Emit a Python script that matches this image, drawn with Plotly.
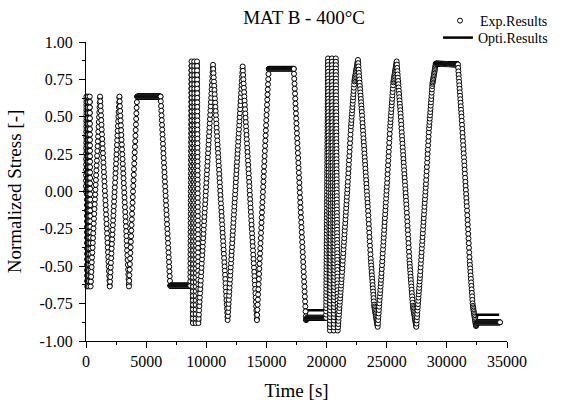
import numpy as np
import plotly.graph_objects as go

# ---------------- data ----------------
# Turning points of the loading history (time [s])
turn_time = [0, 35, 105, 175, 245, 315, 385,
             1170, 1975, 2780, 3570, 4250, 6200, 7000, 8670,
             8770, 8885, 9000, 9115, 9230, 9345,
             10560, 11775, 13025, 14210, 15190, 17275, 18290, 18390, 19960,
             20120, 20282, 20444, 20606, 20768, 20930,
             22610, 24250, 25830, 27460, 29080, 30920, 32420, 32520, 34420]
# Experimental stress at those points
exp_stress = [0, 0.635, -0.635, 0.635, -0.635, 0.635, -0.635,
              0.635, -0.635, 0.635, -0.635, 0.635, 0.635, -0.63, -0.63,
              0.87, -0.88, 0.87, -0.88, 0.87, -0.88,
              0.847, -0.86, 0.836, -0.86, 0.82, 0.82, -0.86, -0.845, -0.845,
              0.89, -0.93, 0.89, -0.93, 0.89, -0.93,
              0.88, -0.905, 0.87, -0.905, 0.855, 0.85, -0.90, -0.875, -0.875]
# Optimised model stress at those points
opti_stress = [0, 0.635, -0.635, 0.635, -0.635, 0.635, -0.635,
               0.635, -0.635, 0.635, -0.635, 0.635, 0.635, -0.63, -0.63,
               0.87, -0.88, 0.87, -0.88, 0.87, -0.88,
               0.847, -0.86, 0.836, -0.86, 0.82, 0.82, -0.86, -0.795, -0.795,
               0.89, -0.93, 0.89, -0.93, 0.89, -0.93,
               0.88, -0.905, 0.87, -0.905, 0.86, 0.86, -0.90, -0.825, -0.825]
# Segment type between consecutive turning points:
# f = fast ramp, s = slow linear ramp, c = slow elasto-plastic ramp, h = hold
seg_kind = ['f', 'f', 'f', 'f', 'f', 'f',
            's', 's', 's', 's', 's', 'h', 's', 'h',
            'f', 'f', 'f', 'f', 'f', 'f',
            's', 's', 's', 's', 's', 'h', 's', 'h', 'h',
            'f', 'f', 'f', 'f', 'f', 'f',
            'c', 'c', 'c', 'c', 'c', 'h', 'c', 'h', 'h']
# Sampling interval of the recorded data [s]
sample_dt = {'f': 2.0, 's': 20.0, 'c': 20.0, 'h': 20.0}
# Shape of an elasto-plastic ramp: fraction of time -> fraction of stress range
shape_time = [0, 0.2, 0.5, 0.65, 0.82, 1.0]
shape_stress = [0, 0.2, 0.55, 0.75, 0.92, 1.0]

x_tickvals = [0, 5000, 10000, 15000, 20000, 25000, 30000, 35000]
x_ticktext = ["0", "5000", "10000", "15000", "20000", "25000", "30000", "35000"]
y_tickvals = [-1.0, -0.75, -0.5, -0.25, 0.0, 0.25, 0.5, 0.75, 1.0]
y_ticktext = ["-1.00", "-0.75", "-0.50", "-0.25", "0.00", "0.25", "0.50", "0.75", "1.00"]

# ---------------- build the recorded series ----------------
exp_t, exp_v = [], []
opt_t, opt_v = [], []
for i, kind in enumerate(seg_kind):
    t0, t1 = turn_time[i], turn_time[i + 1]
    e0, e1 = exp_stress[i], exp_stress[i + 1]
    o0, o1 = opti_stress[i], opti_stress[i + 1]
    ts = np.arange(t0, t1, sample_dt[kind])
    frac = (ts - t0) / (t1 - t0)
    if kind == 'c':
        g = np.interp(frac, shape_time, shape_stress)
    else:
        g = frac
    exp_t.extend(ts.tolist())
    exp_v.extend((e0 + g * (e1 - e0)).tolist())
    if kind == 'c':
        for f, gg in zip(shape_time[:-1], shape_stress[:-1]):
            opt_t.append(t0 + f * (t1 - t0))
            opt_v.append(o0 + gg * (o1 - o0))
    else:
        opt_t.append(t0)
        opt_v.append(o0)
exp_t.append(turn_time[-1]); exp_v.append(exp_stress[-1])
opt_t.append(turn_time[-1] - 70); opt_v.append(opti_stress[-1])

FONT = "Liberation Serif"

fig = go.Figure()
fig.add_trace(go.Scatter(
    x=opt_t, y=opt_v, mode="lines", name="Opti.Results", showlegend=True,
    line=dict(color="black", width=2.5), legend="legend2", cliponaxis=False))
fig.add_trace(go.Scatter(
    x=exp_t, y=exp_v, mode="markers", name="Exp.Results", showlegend=True,
    marker=dict(symbol="circle", size=5, color="white",
                line=dict(color="black", width=1)),
    legend="legend", cliponaxis=False))

axis_common = dict(
    showline=True, linecolor="black", linewidth=1,
    ticks="outside", ticklen=6, tickwidth=1, tickcolor="black",
    showgrid=False, zeroline=False, mirror=False,
    tickfont=dict(family=FONT, size=16, color="black"),
)

fig.update_layout(
    width=564, height=401, showlegend=True,
    margin=dict(l=86, r=57, t=42, b=60, autoexpand=False),
    paper_bgcolor="white", plot_bgcolor="white",
    font=dict(family=FONT, color="black"),
    title=dict(text="MAT B - 400°C", x=0.518, xref="paper", xanchor="center",
               y=1 - 17 / 401, yref="container", yanchor="middle",
               font=dict(family=FONT, size=19, color="black")),
    xaxis=dict(range=[0, 35000], tickmode="array", tickvals=x_tickvals,
               ticktext=x_ticktext,
               minor=dict(ticks="outside", ticklen=3, tickcolor="black",
                          tickmode="linear", tick0=0, dtick=2500),
               title=dict(text="Time [s]", standoff=16,
                          font=dict(family=FONT, size=19, color="black")),
               **axis_common),
    yaxis=dict(range=[-1, 1], tickmode="array", tickvals=y_tickvals,
               ticktext=y_ticktext, ticklabelstandoff=3,
               minor=dict(ticks="outside", ticklen=3, tickcolor="black",
                          tickmode="linear", tick0=0, dtick=0.125),
               title=dict(text="Normalized Stress [-]", standoff=12,
                          font=dict(family=FONT, size=19, color="black")),
               **axis_common),
    legend=dict(x=(440 - 86) / 421, xanchor="left", y=1 + (42 - 21) / 299,
                yanchor="middle", bgcolor="rgba(0,0,0,0)", borderwidth=0,
                font=dict(family=FONT, size=14, color="black")),
    legend2=dict(x=(438 - 86) / 421, xanchor="left", y=1 + (42 - 38) / 299,
                 yanchor="middle", bgcolor="rgba(0,0,0,0)", borderwidth=0,
                 font=dict(family=FONT, size=14, color="black")),
)

fig.write_html("out.html")
